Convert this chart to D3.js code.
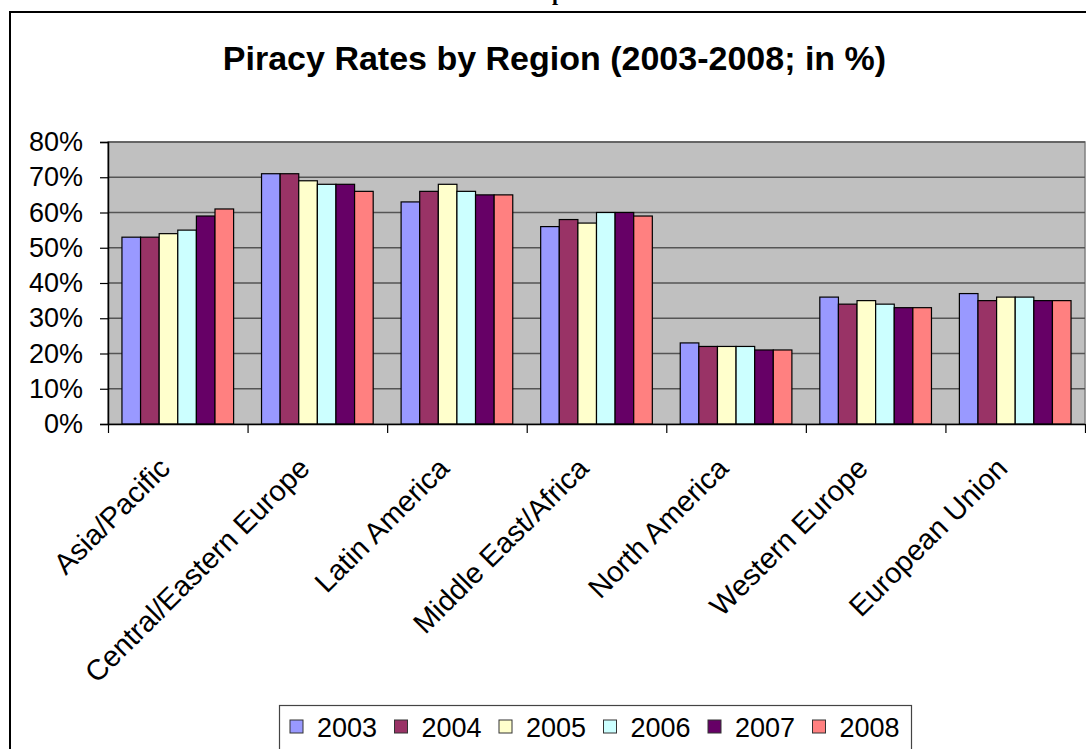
<!DOCTYPE html>
<html>
<head>
<meta charset="utf-8">
<script src="https://cdn.jsdelivr.net/npm/d3@7"></script>
<style>
  html, body { margin: 0; padding: 0; background: #fff; }
  svg { display: block; font-family: Arial, "Liberation Sans", sans-serif; }
</style>
</head>
<body>
<svg id="chart"></svg>
<script>
const regions = ["Asia/Pacific", "Central/Eastern Europe", "Latin America", "Middle East/Africa",
                 "North America", "Western Europe", "European Union"];
const years = ["2003", "2004", "2005", "2006", "2007", "2008"];
const rates2003 = [53, 71, 63, 56, 23, 36, 37];
const rates2004 = [53, 71, 66, 58, 22, 34, 35];
const rates2005 = [54, 69, 68, 57, 22, 35, 36];
const rates2006 = [55, 68, 66, 60, 22, 34, 36];
const rates2007 = [59, 68, 65, 60, 21, 33, 35];
const rates2008 = [61, 66, 65, 59, 21, 33, 35];
const yTicks = [0, 10, 20, 30, 40, 50, 60, 70, 80];
const colors = ["#9999FF", "#993366", "#FFFFCC", "#CCFFFF", "#660066", "#FF8080"];

const series = [rates2003, rates2004, rates2005, rates2006, rates2007, rates2008];

const width = 1086, height = 749;
const plot = { left: 108, right: 1085, top: 142, bottom: 424 };

const svg = d3.select("#chart").attr("width", width).attr("height", height);
svg.append("rect").attr("width", width).attr("height", height).attr("fill", "#fff");

// bit of the document text above the chart frame
svg.append("text")
    .attr("x", 552).attr("y", -0.5)
    .style("font-family", "'Liberation Serif', 'Times New Roman', serif")
    .style("font-weight", "bold")
    .style("font-size", "22px")
    .text("p");

// chart frame
svg.append("rect")
    .attr("x", 10).attr("y", 12)
    .attr("width", 1100).attr("height", 760)
    .attr("fill", "none").attr("stroke", "#000").attr("stroke-width", 2);

svg.append("text")
    .attr("x", 554.5).attr("y", 70)
    .attr("text-anchor", "middle")
    .style("font-weight", "bold")
    .style("font-size", "34px")
    .text("Piracy Rates by Region (2003-2008; in %)");

const x0 = d3.scaleBand().domain(regions).range([plot.left, plot.right]).padding(0);
const x1 = d3.scaleBand().domain(years).range([0, x0.bandwidth()])
    .paddingInner(0).paddingOuter(0.75);
const y = d3.scaleLinear().domain([0, 80]).range([plot.bottom, plot.top]);

// plot area
svg.append("rect")
    .attr("x", plot.left).attr("y", plot.top)
    .attr("width", plot.right - plot.left).attr("height", plot.bottom - plot.top)
    .attr("fill", "#C0C0C0").attr("stroke", "#808080").attr("stroke-width", 1.5);

svg.append("g").selectAll("line")
    .data(yTicks.slice(1))
    .join("line")
    .attr("x1", plot.left).attr("x2", plot.right)
    .attr("y1", d => y(d)).attr("y2", d => y(d))
    .attr("stroke", "#555").attr("stroke-width", 1.5);

// bars
const groups = svg.append("g").selectAll("g")
    .data(regions)
    .join("g")
    .attr("transform", d => `translate(${x0(d)},0)`);

groups.selectAll("rect")
    .data((d, i) => years.map((yr, j) => ({ year: yr, value: series[j][i], color: colors[j] })))
    .join("rect")
    .attr("x", d => x1(d.year))
    .attr("width", x1.bandwidth())
    .attr("y", d => y(d.value))
    .attr("height", d => y(0) - y(d.value))
    .attr("fill", d => d.color)
    .attr("stroke", "#000")
    .attr("stroke-width", 1.2);

// y axis
const yAxis = svg.append("g")
    .attr("transform", `translate(${plot.left},0)`)
    .call(d3.axisLeft(y).tickValues(yTicks).tickSize(8).tickPadding(17).tickFormat(d => d + "%"));
yAxis.select(".domain").attr("stroke", "#000").attr("stroke-width", 1.5);
yAxis.selectAll(".tick line").attr("stroke", "#000").attr("stroke-width", 1.2);
yAxis.selectAll(".tick text")
    .attr("fill", "#000")
    .style("font-family", "Arial, 'Liberation Sans', sans-serif")
    .style("font-size", "27px");

// x axis with ticks on category boundaries
const xb = d3.scaleLinear().domain([0, regions.length]).range([plot.left, plot.right]);
const xAxis = svg.append("g")
    .attr("transform", `translate(0,${plot.bottom})`)
    .call(d3.axisBottom(xb).tickValues(d3.range(regions.length + 1)).tickSize(9).tickSizeOuter(0).tickFormat(""));
xAxis.select(".domain").attr("stroke", "#000").attr("stroke-width", 1.5);
xAxis.selectAll(".tick line").attr("stroke", "#000").attr("stroke-width", 1.2);

svg.append("g").selectAll("text")
    .data(regions)
    .join("text")
    .attr("transform", d => `translate(${x0(d) + x0.bandwidth() / 2 - 6},${plot.bottom + 46}) rotate(-45)`)
    .attr("text-anchor", "end")
    .style("font-size", "29px")
    .text(d => d);

// legend
const legend = svg.append("g");
legend.append("rect")
    .attr("x", 279.5).attr("y", 705.5)
    .attr("width", 632).attr("height", 60)
    .attr("fill", "#fff").attr("stroke", "#444").attr("stroke-width", 1.2);

const items = legend.selectAll("g.item")
    .data(years)
    .join("g")
    .attr("class", "item")
    .attr("transform", (d, i) => `translate(${290 + i * 104.5},0)`);
items.append("rect")
    .attr("x", 0).attr("y", 720)
    .attr("width", 13).attr("height", 13)
    .attr("fill", (d, i) => colors[i])
    .attr("stroke", "#333").attr("stroke-width", 1);
items.append("text")
    .attr("x", 27).attr("y", 737)
    .style("font-size", "27px")
    .text(d => d);
</script>
</body>
</html>
